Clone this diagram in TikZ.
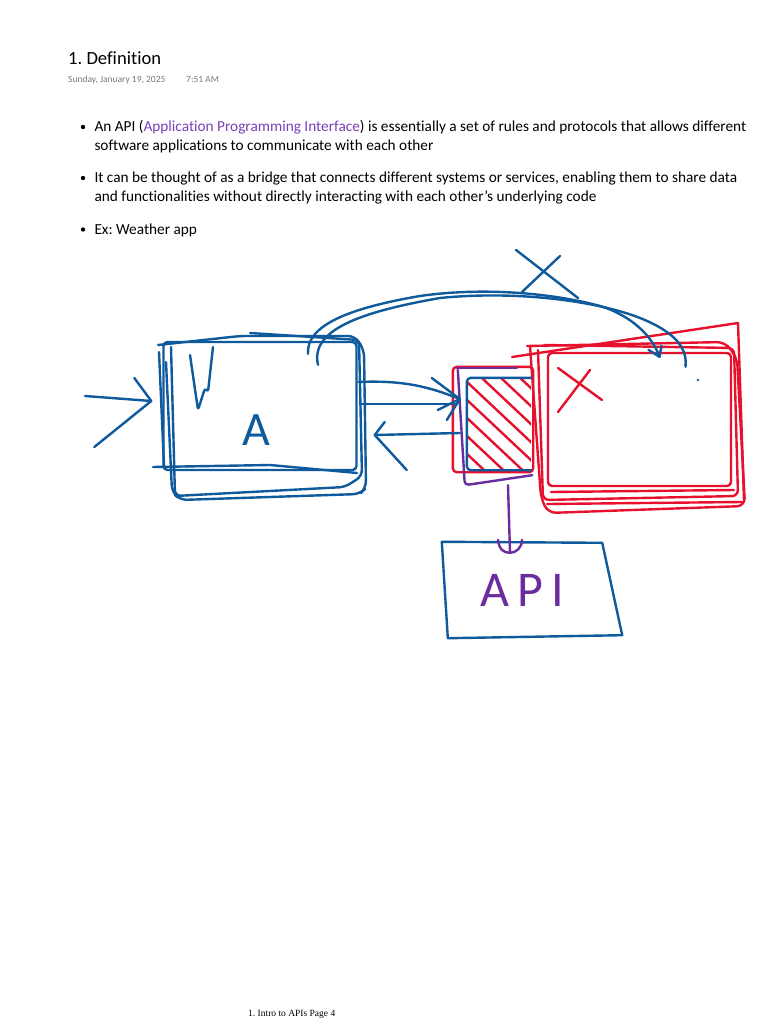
\documentclass[tikz,border=0pt]{standalone}
\usepackage{fontspec}
\setmainfont{Carlito}[Ligatures={NoCommon}]
\newfontfamily\footfont{Liberation Serif}
\newfontfamily\handfont[LetterSpace=16]{Carlito}
\usepackage{xcolor}
\usetikzlibrary{calc}
\definecolor{penblue}{HTML}{0F5A9C}
\definecolor{penred}{HTML}{E8112D}
\definecolor{penpurple}{HTML}{6A2C9E}
\definecolor{linkpurple}{HTML}{7B3FB8}
\definecolor{stampgray}{HTML}{7A7A7A}
\frenchspacing

\begin{document}
\begin{tikzpicture}[
    x=1pt, y=-1pt,
    pen/.style={line width=2.4pt, line cap=round, line join=round},
    bluepen/.style={pen, draw=penblue},
    redpen/.style={pen, draw=penred},
    purplepen/.style={pen, draw=penpurple},
    sketchbox/.style={rectangle, inner sep=0pt, rounded corners=4pt},
    title/.style={anchor=base west, inner sep=0pt, font=\fontsize{18.6}{22}\selectfont},
    stamp/.style={anchor=base west, inner sep=0pt, text=stampgray, font=\fontsize{9.5}{11}\selectfont},
    body/.style={anchor=base west, inner sep=0pt, font=\fontsize{15.3}{18}\selectfont},
    dot/.style={circle, fill=black, inner sep=0pt, minimum size=4.4pt},
    hand/.style={inner sep=0pt},
]
\fill[white] (0,0) rectangle (768,1024);
\useasboundingbox (0,0) rectangle (768,1024);

% Page header
\node[title] (title) at (68,65) {1. Definition};
\node[stamp] (date) at (68,83) {Sunday, January 19, 2025};
\node[stamp] (time) at (186,83) {7:51 AM};

% Bullets
\node[dot] (b1) at (83,127) {};
\node[body] (l1) at (94.3,131.7) {An API (\textcolor{linkpurple}{Application Programming Interface}) is essentially a set of rules and protocols that allows different};
\node[body] (l2) at (94.3,150.7) {software applications to communicate with each other};
\node[dot] (b2) at (83,178) {};
\node[body] (l3) at (94.3,182.7) {It can be thought of as a bridge that connects different systems or services, enabling them to share data};
\node[body] (l4) at (94.3,201.7) {and functionalities without directly interacting with each other\symbol{39}s underlying code};
\node[dot] (b3) at (83,229.5) {};
\node[body] (l5) at (94.3,234) {Ex: Weather app};

% Sketch boxes
\node[sketchbox, bluepen, minimum width=193pt, minimum height=128pt] (appA) at (260,406) {};
\node[sketchbox, redpen, minimum width=183pt, minimum height=133pt] (server) at (639.5,419.5) {};
\node[sketchbox, minimum width=64pt, minimum height=92pt] (apiSq) at (499,424) {};
\node[sketchbox, minimum width=172pt, minimum height=96pt] (apiBox) at (532,589) {};

% extra strokes of box A
\draw[bluepen, rounded corners=7pt] (158,345) -- (240,336) -- (355,336) -- (364,350) -- (366,488) -- (360,494) -- (180,500) -- (172,492) -- (166,362);
\draw[bluepen, rounded corners=6pt] (171,347) -- (175,496) -- (345,487) -- (362,476) -- (359,340) -- (250,333);
\draw[bluepen] (153,467) -- (270,465) -- (357,473);
\draw[bluepen] (159,352) -- (164,466);
\draw[bluepen, rounded corners=3pt] (190,355) -- (198,410) -- (205,388) -- (208,392) -- (213,347);
\node[hand, text=penblue, font=\fontsize{48}{48}\selectfont] (labelA) at (256,430) {A};

% extra strokes of the server box
\draw[redpen] (512,357) -- (738,323) -- (744,500);
\draw[redpen, rounded corners=8pt] (527,346) -- (725,342) -- (737,358) -- (745,506) -- (548,513) -- (541,498) -- (530,346);
\draw[redpen, rounded corners=6pt] (538,350) -- (543,500) -- (738,496) -- (734,348) -- (545,345);
\draw[redpen] (551,492) -- (734,490);
\draw[redpen] (547,504) -- (742,502);
\draw[redpen] (558,368) -- (602,400);
\draw[redpen] (590,370) -- (558,412);
\fill[penblue] (698,380) circle (1.3);

% hatched API square
\begin{scope}
    \clip (apiSq.north west) rectangle (apiSq.south east);
    \foreach \y in {-50,-32,...,88}
        \draw[redpen] ($(apiSq.north west)+(0,\y)$) -- ++(66,62);
\end{scope}
\draw[redpen, rounded corners=4pt] ($(apiSq.north west)+(-14,-11)$) rectangle ($(apiSq.south east)+(2,2)$);
\draw[purplepen] ($(apiSq.north west)+(-10,-10)$) -- ($(apiSq.north west)+(50,-10)$);
\draw[purplepen, rounded corners=4pt] ($(apiSq.north west)+(-9,-8)$) -- ($(apiSq.south west)+(-2,15)$) -- ($(apiSq.south east)+(1,5)$);
\draw[bluepen, rounded corners=4pt] (apiSq.north east) -- (apiSq.north west) -- (apiSq.south west) -- (apiSq.south east);

% API box
\draw[bluepen] ($(apiBox.north west)+(-4,1)$) -- ($(apiBox.north east)+(-16,2)$) -- ($(apiBox.south east)+(4,-2)$) -- ($(apiBox.south west)+(2,1)$) -- cycle;
\node[hand, text=penpurple, font=\handfont\fontsize{50}{50}\selectfont] (labelApi) at (522,590) {API};

% into A
\coordinate (feed) at (85,396);
\coordinate (feedTip) at ($(appA.west)+(-11,-5)$);
\draw[bluepen] (feed) -- (feedTip);
\draw[bluepen] ($(feedTip)+(-17,-23)$) -- (feedTip) -- ($(feedTip)+(-57,46)$);

% A -> API square
\coordinate (reqTip) at ($(apiSq.west)+(-7,-25)$);
\draw[bluepen] ($(appA.east)+(1,-24)$) .. controls +(45,-2) and +(-30,-12) .. (reqTip);
\draw[bluepen] ($(appA.east)+(4,-2)$) -- ($(reqTip)+(-3,5)$);
\draw[bluepen] ($(reqTip)+(-28,-21)$) -- (reqTip) -- ($(reqTip)+(-22,11)$);
\draw[bluepen] ($(reqTip)+(-13,21)$) -- (reqTip);

% API square -> A
\coordinate (respTip) at ($(appA.east)+(17,29)$);
\draw[bluepen] ($(apiSq.west)+(-7,9)$) -- (respTip);
\draw[bluepen] ($(respTip)+(10,-13)$) -- (respTip) -- ($(respTip)+(32,35)$);

% A -> server directly, crossed out
\draw[bluepen] ($(appA.north)+(48,13)$) .. controls (306,325) and (350,308) .. (420,296)
    .. controls (490,286) and (560,295) .. (600,306)
    .. controls (630,315) and (652,335) .. ($(server.north)+(20,5)$);
\draw[bluepen] ($(appA.north)+(58,24)$) .. controls (310,330) and (360,312) .. (440,298)
    .. controls (520,290) and (600,302) .. (640,318)
    .. controls (670,330) and (688,345) .. ($(server.north)+(46,15)$);
\draw[bluepen] ($(server.north)+(9,-2)$) -- ($(server.north)+(20,5)$) -- ($(server.north)+(22,-6)$);
\draw[bluepen] (516,250) -- (578,298);
\draw[bluepen] (560,256) -- (522,292);

% API square -> API box
\coordinate (apiTip) at ($(apiBox.north)+(-22,12)$);
\draw[purplepen] ($(apiSq.south)+(9,15)$) -- (apiTip);
\draw[purplepen] ($(apiTip)+(-12,-13)$) .. controls +(1,10) and +(-6,0) .. (apiTip)
    .. controls +(6,0) and +(0,8) .. ($(apiTip)+(12,-13)$);

% Footer
\node[anchor=base west, inner sep=0pt, font=\footfont\fontsize{9.5}{11}\selectfont] (footer) at (248,1016) {1. Intro to APIs Page 4};
\end{tikzpicture}
\end{document}
